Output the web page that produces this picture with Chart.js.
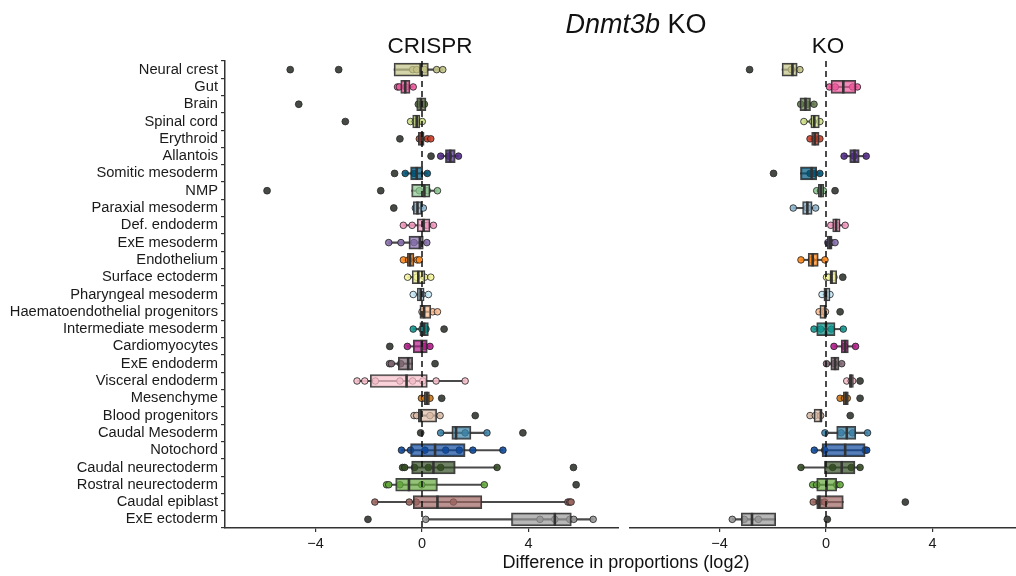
<!DOCTYPE html>
<html>
<head>
<meta charset="utf-8">
<title>Dnmt3b KO</title>
<script src="https://cdn.jsdelivr.net/npm/chart.js@4.4.1/dist/chart.umd.min.js"></script>
<style>
  html, body { margin: 0; padding: 0; background: #fff; width: 1016px; height: 576px; overflow: hidden; }
  #wrap { position: relative; width: 1016px; height: 576px; overflow: hidden; font-family: "Liberation Sans", Arial, sans-serif; color: #111; }
  #crisprBox { position: absolute; left: 0; top: 0; width: 619px; height: 576px; }
  #koBox { position: absolute; left: 629px; top: 0; width: 394px; height: 576px; }
  .txt { position: absolute; text-align: center; white-space: nowrap; }
  #mainTitle { left: 486px; width: 300px; top: 9px; line-height: 30px; font-size: 27px; }
  .strip { top: 33px; width: 200px; line-height: 26px; font-size: 22.5px; }
  #xTitle { left: 426px; width: 400px; top: 551px; line-height: 22px; font-size: 18px; }
</style>
</head>
<body>
<div id="wrap">
  <div id="crisprBox"><canvas id="crisprChart" width="619" height="576"></canvas></div>
  <div id="koBox"><canvas id="koChart" width="394" height="576"></canvas></div>
  <div class="txt" id="mainTitle"><i>Dnmt3b</i> KO</div>
  <div class="txt strip" style="left:330px">CRISPR</div>
  <div class="txt strip" style="left:728px">KO</div>
  <div class="txt" id="xTitle">Difference in proportions (log2)</div>
</div>
<script>
// cell types, top to bottom
const categories = [
    'Neural crest', 'Gut', 'Brain', 'Spinal cord', 'Erythroid', 'Allantois',
    'Somitic mesoderm', 'NMP', 'Paraxial mesoderm', 'Def. endoderm', 'ExE mesoderm',
    'Endothelium', 'Surface ectoderm', 'Pharyngeal mesoderm', 'Haematoendothelial progenitors',
    'Intermediate mesoderm', 'Cardiomyocytes', 'ExE endoderm', 'Visceral endoderm',
    'Mesenchyme', 'Blood progenitors', 'Caudal Mesoderm', 'Notochord',
    'Caudal neurectoderm', 'Rostral neurectoderm', 'Caudal epiblast', 'ExE ectoderm'
];

const xTicks = [-4, 0, 4];

// CRISPR panel - box stats
const crisprQ1  = [-1.05, -0.80, -0.20, -0.35, -0.14, 0.88, -0.43, -0.39, -0.33, -0.18, -0.49, -0.55, -0.37, -0.18, -0.08, -0.08, -0.33, -0.89, -1.94, 0.08, -0.14, 1.12, -0.43, -0.39, -0.99, -0.33, 3.36];
const crisprMed = [-0.05, -0.63, -0.04, -0.20, -0.01, 1.06, -0.20, 0.09, -0.17, 0.06, -0.08, -0.45, -0.14, -0.05, 0.08, 0.08, -0.01, -0.52, -0.58, 0.18, -0.05, 1.28, 0.49, 0.43, -0.49, 0.58, 4.99];
const crisprQ3  = [0.24, -0.45, 0.15, -0.08, 0.08, 1.25, 0.03, 0.30, -0.01, 0.30, 0.05, -0.30, 0.11, 0.08, 0.33, 0.24, 0.20, -0.35, 0.20, 0.28, 0.55, 1.84, 1.62, 1.25, 0.58, 2.25, 5.61];
const crisprLo  = [-1.05, -0.92, -0.20, -0.43, -0.14, 0.70, -0.63, -0.39, -0.33, -0.70, -1.25, -0.70, -0.54, -0.33, -0.08, -0.33, -0.55, -1.20, -2.44, 0.00, -0.30, 0.70, -0.77, -0.73, -1.33, -1.77, 0.14];
const crisprHi  = [0.78, -0.33, 0.15, 0.01, 0.33, 1.37, 0.20, 0.58, 0.05, 0.43, 0.18, -0.10, 0.33, 0.24, 0.58, 0.24, 0.30, -0.35, 1.62, 0.30, 0.68, 2.44, 3.04, 2.82, 2.34, 5.60, 6.43];
const crisprPoints = [
    [-0.35, -0.20, 0.10, 0.55, 0.78], [-0.92, -0.85, -0.60, -0.33], [-0.14, 0.03, 0.09], [-0.43, -0.25, 0.01],
    [-0.10, 0.20, 0.33], [0.70, 1.00, 1.37], [-0.63, -0.30, 0.20], [-0.10, 0.20, 0.58], [-0.25, 0.05],
    [-0.70, -0.37, 0.10, 0.20, 0.43], [-1.25, -0.79, -0.30, 0.18], [-0.70, -0.50, -0.18, -0.10],
    [-0.54, -0.20, 0.10, 0.33], [-0.33, 0.00, 0.24], [0.00, 0.40, 0.58], [-0.33, 0.00, 0.15],
    [-0.55, 0.10, 0.30], [-1.22, -1.15, -0.80], [-2.44, -2.15, -1.75, -0.83, -0.35, 0.03, 0.53, 1.62],
    [-0.02, 0.10, 0.30], [-0.30, -0.20, 0.30, 0.68], [0.70, 1.62, 2.44],
    [-0.77, -0.43, 0.11, 0.89, 1.40, 1.91, 3.04], [-0.73, -0.65, -0.28, 0.24, 0.70, 2.82],
    [-1.33, -1.25, -0.83, -0.01, 2.34], [-1.77, -0.48, -0.22, 1.18, 5.48, 5.55, 5.60],
    [0.14, 4.43, 4.99, 5.55, 5.70, 6.43]
];
const crisprOutliers = [
    [-4.95, -3.13], [], [-4.63], [-2.88], [-0.83], [0.34], [-1.03], [-5.82, -1.55], [-1.06],
    [], [], [], [], [], [], [0.83], [-1.21], [0.49], [], [0.74], [2.00], [-0.05, 3.79],
    [], [5.69], [5.79], [], [-2.03]
];

// KO panel - box stats
const koQ1  = [-1.65, 0.19, -0.98, -0.57, -0.54, 0.89, -0.96, -0.29, -0.88, 0.25, 0.05, -0.67, 0.15, -0.08, -0.23, -0.35, 0.57, 0.18, 0.88, 0.65, -0.45, 0.40, -0.15, -0.06, -0.35, -0.35, -3.18];
const koMed = [-1.26, 0.65, -0.77, -0.44, -0.42, 1.07, -0.54, -0.19, -0.70, 0.38, 0.15, -0.50, 0.21, 0.00, -0.03, 0.00, 0.72, 0.34, 0.93, 0.75, -0.19, 0.78, 0.72, 0.59, 0.02, -0.25, -2.78];
const koQ3  = [-1.08, 1.12, -0.58, -0.25, -0.26, 1.25, -0.35, -0.08, -0.52, 0.53, 0.23, -0.29, 0.40, 0.15, -0.01, 0.34, 0.84, 0.49, 1.03, 0.84, -0.16, 1.12, 1.47, 1.09, 0.40, 0.65, -1.89];
const koLo  = [-1.65, 0.13, -0.98, -0.83, -0.60, 0.68, -0.96, -0.35, -1.23, 0.18, 0.05, -0.94, 0.02, -0.15, -0.26, -0.45, 0.30, 0.02, 0.78, 0.53, -0.60, -0.04, -0.44, -0.94, -0.50, -0.48, -3.52];
const koHi  = [-0.98, 1.18, -0.45, -0.23, -0.23, 1.51, -0.23, -0.08, -0.39, 0.72, 0.34, -0.04, 0.40, 0.15, -0.01, 0.65, 1.11, 0.59, 1.03, 0.84, -0.16, 1.56, 1.53, 1.28, 0.53, 0.65, -1.89];
const koPoints = [
    [-1.30, -0.98], [0.13, 0.35, 1.00, 1.18], [-0.95, -0.70, -0.45], [-0.83, -0.50, -0.23],
    [-0.60, -0.40, -0.23], [0.68, 1.05, 1.51], [-0.60, -0.45, -0.23], [-0.35, -0.20, -0.10],
    [-1.23, -0.70, -0.39], [0.18, 0.40, 0.72], [0.07, 0.20, 0.34], [-0.94, -0.55, -0.04],
    [0.02, 0.10, 0.30], [-0.15, 0.05, 0.15], [-0.26, -0.10, -0.02], [-0.45, -0.20, 0.20, 0.65],
    [0.30, 0.70, 1.11], [0.02, 0.30, 0.59], [0.78, 0.95, 1.00], [0.53, 0.70, 0.80],
    [-0.60, -0.40, -0.20], [-0.04, 0.57, 1.00, 1.56], [-0.44, -0.05, 1.47, 1.53],
    [-0.94, 0.25, 0.95, 1.28], [-0.50, -0.35, 0.40, 0.53], [-0.48, -0.25, -0.05],
    [-3.52, -3.07, -2.54]
];
const koOutliers = [
    [-2.87], [], [], [], [], [], [-1.97], [0.34], [], [], [], [], [0.63], [], [0.53], [],
    [], [], [1.28], [1.28], [0.91], [], [], [], [], [2.98], [0.05]
];

// colours per cell type (atlas palette)
const palette = [
    '#C3C388', '#EF5A9D', '#647a4f', '#CDE088', '#C9402A', '#532C8A',
    '#005579', '#8EC792', '#8DB5CE', '#F397C0', '#8870ad',
    '#ff891c', '#f7f79e', '#C9EBFB', '#FBBE92',
    '#139992', '#B51D8D', '#7F6874', '#F6BFCB',
    '#cc7818', '#dcbca8', '#3F84AA', '#0F4A9C',
    '#354E23', '#65A83E', '#9e6762', '#989898'
];

const FONT = '"Liberation Sans", Arial, sans-serif';

function withAlpha(hex, a) {
    const n = parseInt(hex.slice(1), 16);
    return `rgba(${(n >> 16) & 255},${(n >> 8) & 255},${n & 255},${a})`;
}

// dashed line at x = 0
const zeroLine = {
    id: 'zeroLine',
    afterDatasetsDraw(chart) {
        const { ctx, chartArea, scales } = chart;
        const x = scales.x.getPixelForValue(0);
        ctx.save();
        ctx.setLineDash([6, 4]);
        ctx.lineWidth = 1.5;
        ctx.strokeStyle = '#111';
        ctx.beginPath();
        ctx.moveTo(x, chartArea.top);
        ctx.lineTo(x, chartArea.bottom);
        ctx.stroke();
        ctx.restore();
    }
};

function buildDatasets(q1, med, q3, lo, hi, pts, outs) {
    const jitter = [], jitterCol = [];
    pts.forEach((arr, i) => arr.forEach(v => {
        jitter.push({ x: v, y: categories[i] });
        jitterCol.push(withAlpha(palette[i], 0.9));
    }));
    const outliers = [];
    outs.forEach((arr, i) => arr.forEach(v => outliers.push({ x: v, y: categories[i] })));

    return [
        { // whiskers
            type: 'bar',
            data: categories.map((c, i) => [lo[i], hi[i]]),
            barThickness: 1.4,
            backgroundColor: '#4a4a4a',
            borderWidth: 0,
            grouped: false,
            order: 5
        },
        { // individual embryos
            type: 'scatter',
            data: jitter,
            pointRadius: 3.3,
            pointBackgroundColor: jitterCol,
            pointBorderColor: '#1e1e1e',
            pointBorderWidth: 0.8,
            order: 4
        },
        { // boxes
            type: 'bar',
            data: categories.map((c, i) => [q1[i], q3[i]]),
            barThickness: 13,
            backgroundColor: palette.map(c => withAlpha(c, 0.7)),
            borderColor: 'rgba(45,45,45,0.9)',
            borderWidth: 1.5,
            borderSkipped: false,
            grouped: false,
            order: 3
        },
        { // medians
            type: 'scatter',
            data: categories.map((c, i) => ({ x: med[i], y: c })),
            pointStyle: 'line',
            rotation: 90,
            pointRadius: 6.5,
            pointBorderColor: '#333',
            pointBorderWidth: 2.6,
            order: 2
        },
        { // outliers
            type: 'scatter',
            data: outliers,
            pointRadius: 3.4,
            pointBackgroundColor: '#464a44',
            pointBorderColor: '#2a2a2a',
            pointBorderWidth: 0.8,
            order: 1
        }
    ];
}

function makeChart(canvasId, datasets, showY) {
    const ctx = document.getElementById(canvasId).getContext('2d');
    return new Chart(ctx, {
        type: 'bar',
        data: { labels: categories, datasets: datasets },
        options: {
            indexAxis: 'y',
            responsive: false,
            animation: false,
            devicePixelRatio: 1,
            layout: { autoPadding: false, padding: { top: 61, right: 0, bottom: 0, left: 0 } },
            plugins: { legend: { display: false }, tooltip: { enabled: false } },
            scales: {
                x: {
                    type: 'linear',
                    min: -7.4,
                    max: 7.4,
                    afterBuildTicks: s => { s.ticks = xTicks.map(v => ({ value: v })); },
                    afterFit: s => { s.height = 48; s.paddingLeft = 0; s.paddingRight = 0; },
                    grid: { display: true, drawOnChartArea: false, drawTicks: true, tickLength: 4, color: '#333', lineWidth: 1.2 },
                    border: { display: true, color: '#333', width: 1.5 },
                    ticks: {
                        color: '#1a1a1a',
                        font: { family: FONT, size: 14.5 },
                        padding: 3,
                        maxRotation: 0,
                        autoSkip: false,
                        callback: v => v < 0 ? '\u2212' + Math.abs(v) : String(v)
                    }
                },
                y: {
                    type: 'category',
                    afterFit: s => { s.width = showY ? 225 : 0; s.paddingTop = 0; s.paddingBottom = 0; },
                    grid: { display: showY, drawOnChartArea: false, drawTicks: true, tickLength: 4, color: '#333', lineWidth: 1.2 },
                    border: { display: showY, color: '#333', width: 1.5 },
                    ticks: { display: showY, color: '#1a1a1a', font: { family: FONT, size: 14.7 }, padding: 3, autoSkip: false }
                }
            }
        },
        plugins: [zeroLine]
    });
}

makeChart('crisprChart',
    buildDatasets(crisprQ1, crisprMed, crisprQ3, crisprLo, crisprHi, crisprPoints, crisprOutliers), true);
makeChart('koChart',
    buildDatasets(koQ1, koMed, koQ3, koLo, koHi, koPoints, koOutliers), false);
</script>
</body>
</html>
